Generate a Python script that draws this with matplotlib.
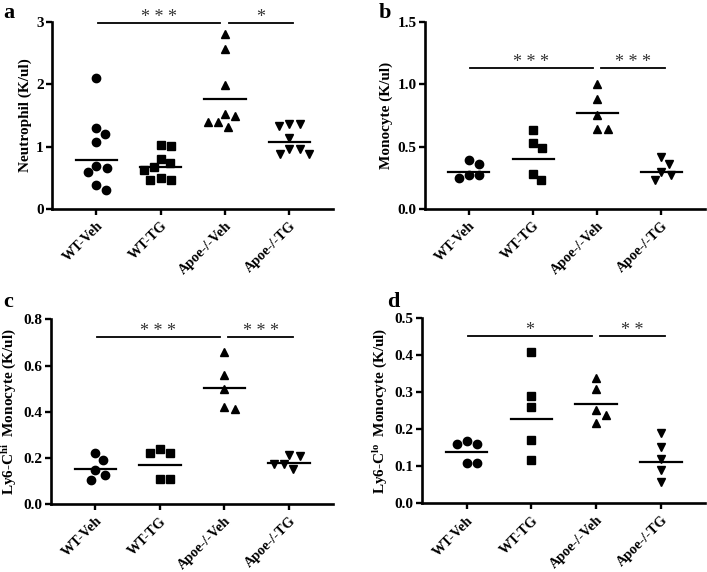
import numpy as np
import matplotlib
matplotlib.use("Agg")
import matplotlib.pyplot as plt

plt.rcParams['font.family'] = ['Liberation Serif', 'DejaVu Serif']
plt.rcParams['font.weight'] = 'bold'
plt.rcParams['mathtext.fontset'] = 'custom'
plt.rcParams['mathtext.rm'] = 'Liberation Serif:bold'
plt.rcParams['mathtext.bf'] = 'Liberation Serif:bold'
plt.rcParams['mathtext.it'] = 'Liberation Serif:bold:italic'

groups = ["WT-Veh", "WT-TG", "Apoe-/-Veh", "Apoe-/-TG"]

# Panel a: Neutrophil
a_wt_veh = [2.10, 1.30, 1.21, 1.08, 0.69, 0.65, 0.59, 0.38, 0.31]
a_wt_tg = [1.03, 1.01, 0.81, 0.73, 0.68, 0.62, 0.50, 0.47, 0.46]
a_apoe_veh = [2.81, 2.57, 1.99, 1.53, 1.49, 1.40, 1.40, 1.32]
a_apoe_tg = [1.36, 1.36, 1.33, 1.14, 0.96, 0.96, 0.88, 0.88]
a_means = [0.78, 0.68, 1.76, 1.08]

# Panel b: Monocyte
b_wt_veh = [0.39, 0.36, 0.27, 0.27, 0.245]
b_wt_tg = [0.63, 0.53, 0.49, 0.28, 0.23]
b_apoe_veh = [1.00, 0.88, 0.75, 0.64, 0.64]
b_apoe_tg = [0.42, 0.36, 0.30, 0.27, 0.23]
b_means = [0.30, 0.40, 0.77, 0.30]

# Panel c: Ly6-C hi Monocyte
c_wt_veh = [0.22, 0.19, 0.147, 0.126, 0.105]
c_wt_tg = [0.237, 0.22, 0.22, 0.108, 0.108]
c_apoe_veh = [0.657, 0.56, 0.50, 0.42, 0.41]
c_apoe_tg = [0.215, 0.21, 0.175, 0.172, 0.151]
c_means = [0.154, 0.17, 0.503, 0.177]

# Panel d: Ly6-C lo Monocyte
d_wt_veh = [0.169, 0.16, 0.16, 0.108, 0.108]
d_wt_tg = [0.41, 0.29, 0.26, 0.17, 0.117]
d_apoe_veh = [0.34, 0.309, 0.252, 0.24, 0.218]
d_apoe_tg = [0.19, 0.153, 0.12, 0.09, 0.059]
d_means = [0.138, 0.228, 0.268, 0.111]

panels = [
    dict(letter="a", data=[a_wt_veh, a_wt_tg, a_apoe_veh, a_apoe_tg], means=a_means,
         ylabel="Neutrophil (K/ul)", ylim=3.0, yticks=[0, 1, 2, 3], fmt="{:.0f}",
         sig_y=2.98, sig=["***", "*"],
         rect=[0.0735, 0.6346, 0.3975, 0.327]),
    dict(letter="b", data=[b_wt_veh, b_wt_tg, b_apoe_veh, b_apoe_tg], means=b_means,
         ylabel="Monocyte (K/ul)", ylim=1.5, yticks=[0, 0.5, 1.0, 1.5], fmt="{:.1f}",
         sig_y=1.13, sig=["***", "***"],
         rect=[0.6007, 0.6346, 0.3963, 0.327]),
    dict(letter="c", data=[c_wt_veh, c_wt_tg, c_apoe_veh, c_apoe_tg], means=c_means,
         ylabel="Ly6-C$^{\\mathrm{hi}}$  Monocyte (K/ul)", ylim=0.8,
         yticks=[0, 0.2, 0.4, 0.6, 0.8], fmt="{:.1f}",
         sig_y=0.723, sig=["***", "***"],
         rect=[0.0717, 0.1185, 0.3993, 0.3233]),
    dict(letter="d", data=[d_wt_veh, d_wt_tg, d_apoe_veh, d_apoe_tg], means=d_means,
         ylabel="Ly6-C$^{\\mathrm{lo}}$  Monocyte (K/ul)", ylim=0.5,
         yticks=[0, 0.1, 0.2, 0.3, 0.4, 0.5], fmt="{:.1f}",
         sig_y=0.452, sig=["*", "**"],
         rect=[0.597, 0.120, 0.40, 0.3235]),
]

markers = ["o", "s", "^", "v"]
msizes = [6.0, 5.6, 6.4, 6.4]

fig = plt.figure(figsize=(7.07, 5.72), dpi=100)


def swarm_offsets(ax, xc, vals, diam_px):
    vals = np.asarray(vals, float)
    pts = ax.transData.transform(np.column_stack([np.full(len(vals), xc), vals]))
    ys = pts[:, 1]
    px_per_unit = ax.transData.transform([[xc + 1, 0]])[0, 0] - ax.transData.transform([[xc, 0]])[0, 0]
    order = np.argsort(-vals)
    placed = []
    offs = np.zeros(len(vals))
    for i in order:
        cands = [0.0]
        for (xj, yj) in placed:
            dy = abs(ys[i] - yj)
            if dy < diam_px:
                dx = np.sqrt(diam_px ** 2 - dy ** 2)
                cands += [xj + dx, xj - dx]
        cands = sorted(cands, key=lambda c: (abs(c), -c))
        for c in cands:
            ok = all((c - xj) ** 2 + (ys[i] - yj) ** 2 >= diam_px ** 2 - 1e-6 for xj, yj in placed)
            if ok:
                offs[i] = c
                placed.append((c, ys[i]))
                break
    return offs / px_per_unit


for p in panels:
    ax = fig.add_axes(p["rect"])
    ax.set_xlim(0.31, 4.68)
    ax.set_ylim(0, p["ylim"])
    for s in ["top", "right"]:
        ax.spines[s].set_visible(False)
    for s in ["left", "bottom"]:
        ax.spines[s].set_linewidth(1.9)
    ax.set_xticks(range(1, 5))
    ax.set_xticklabels(groups, rotation=45, ha="right", rotation_mode="anchor",
                       fontsize=10.3, fontweight="bold")
    ax.set_yticks(p["yticks"])
    ax.set_yticklabels([p["fmt"].format(v) for v in p["yticks"]], fontsize=11, fontweight="bold")
    ax.tick_params(axis="both", direction="out", length=4, width=1.7, pad=2)
    ax.tick_params(axis="x", pad=3.5)
    ax.set_ylabel(p["ylabel"], fontsize=11, fontweight="bold", labelpad=3)

    for gi, vals in enumerate(p["data"]):
        xc = gi + 1
        offs = swarm_offsets(ax, xc, vals, 10.5)
        ax.plot(xc + offs, vals, linestyle="none", marker=markers[gi], ms=msizes[gi],
                color="black", clip_on=False)
        ax.plot([xc - 0.32, xc + 0.32], [p["means"][gi]] * 2, color="black", lw=1.6)

    # significance bars
    y = p["sig_y"]
    segs = [(1.02, 2.93), (3.06, 4.06)]
    for (x0, x1), st in zip(segs, p["sig"]):
        ax.plot([x0, x1], [y, y], color="black", lw=1.3, clip_on=False)
        ax.annotate(" ".join(st), xy=((x0 + x1) / 2, y), xytext=(0, -2), textcoords="offset points",
                    ha="center", va="bottom", fontsize=13, fontweight="normal",
                    color="#333333", annotation_clip=False)

# panel letters
fig.text(0.005, 0.995, "a", fontsize=16, fontweight="bold", va="top", ha="left")
fig.text(0.535, 0.995, "b", fontsize=16, fontweight="bold", va="top", ha="left")
fig.text(0.005, 0.49, "c", fontsize=16, fontweight="bold", va="top", ha="left")
fig.text(0.547, 0.49, "d", fontsize=16, fontweight="bold", va="top", ha="left")

fig.savefig("out.png", dpi=100)
